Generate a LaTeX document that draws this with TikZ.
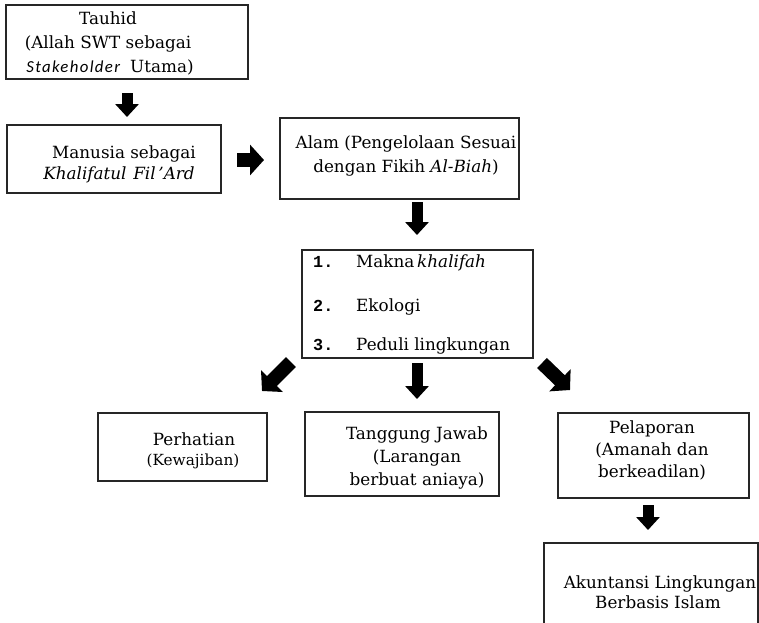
\documentclass[tikz,border=0pt]{standalone}
\usepackage{fontspec}
\setmainfont{DejaVu Serif}
\newfontfamily\calib{Carlito}[LetterSpace=8]
\newfontfamily\monof{Liberation Mono}
\usetikzlibrary{arrows.meta}
\begin{document}
\begin{tikzpicture}[x=1pt,y=-1pt,
  box/.style={draw=black!85,line width=1.4pt,rectangle},
  txt/.style={anchor=base,inner sep=0pt,font=\fontsize{16.8}{19}\selectfont},
  ltxt/.style={anchor=base west,inner sep=0pt,font=\fontsize{16.8}{19}\selectfont},
  barrow/.style={line width=11pt,black,-{Triangle[width=23pt,length=13pt]}},
  warrow/.style={line width=14pt,black,-{Triangle[width=30pt,length=14pt]}}]
\useasboundingbox (0,0) rectangle (759,622);
\clip (0,0) rectangle (759,622);
% boxes
\draw[box] (6,5) rectangle (248,79);
\draw[box] (7,125) rectangle (221,193);
\draw[box] (280,118) rectangle (519,199);
\draw[box] (302,250) rectangle (533,358);
\draw[box] (98,413) rectangle (267,481);
\draw[box] (305,412) rectangle (499,496);
\draw[box] (558,413) rectangle (749,498);
\draw[box] (544,543) rectangle (758,650);
% texts
\node[txt] (t1a) at (108,24) {Tauhid};
\node[txt] (t1b) at (108,48) {(Allah SWT sebagai};
\node[txt] (t1c) at (110,72) {{\calib\itshape Stakeholder}\hspace{0.6em}Utama)};
\node[txt] (t2a) at (124,158) {Manusia sebagai};
\node[txt] (t2b) at (119,179) {\itshape Khalifatul\hspace{0.4em}Fil\,'Ard};
\node[txt] (t3a) at (406,148) {Alam (Pengelolaan Sesuai};
\node[txt] (t3b) at (406,172) {dengan Fikih \textit{Al-Biah})};
\node[ltxt] (n1) at (313,267) {\monof\bfseries 1.};
\node[ltxt] (n2) at (313,311) {\monof\bfseries 2.};
\node[ltxt] (n3) at (313,350) {\monof\bfseries 3.};
\node[ltxt] (l1) at (356,267) {Makna\,\textit{khalifah}};
\node[ltxt] (l2) at (356,311) {Ekologi};
\node[ltxt] (l3) at (356,350) {Peduli lingkungan};
\node[txt] (t5a) at (194,445) {Perhatian};
\node[txt,font=\fontsize{15.3}{17}\selectfont] (t5b) at (193,465) {(Kewajiban)};
\node[txt] (t6a) at (417,439) {Tanggung Jawab};
\node[txt] (t6b) at (417,462) {(Larangan};
\node[txt] (t6c) at (417,485) {berbuat aniaya)};
\node[txt] (t7a) at (652,433) {Pelaporan};
\node[txt] (t7b) at (652,455) {(Amanah dan};
\node[txt] (t7c) at (652,477) {berkeadilan)};
\node[txt] (t8a) at (660,588) {Akuntansi Lingkungan};
\node[txt] (t8b) at (658,608) {Berbasis Islam};
% arrows
\coordinate (a1s) at (127,93);  \coordinate (a1e) at (127,117);
\coordinate (a2s) at (237,160); \coordinate (a2e) at (264,160);
\coordinate (a3s) at (417,202); \coordinate (a3e) at (417,235);
\coordinate (a4s) at (291,362); \coordinate (a4e) at (262,391);
\coordinate (a5s) at (417,363); \coordinate (a5e) at (417,399);
\coordinate (a6s) at (542,363); \coordinate (a6e) at (570,390);
\coordinate (a7s) at (648,505); \coordinate (a7e) at (648,530);
\draw[barrow] (a1s) -- (a1e);
\draw[warrow] (a2s) -- (a2e);
\draw[barrow] (a3s) -- (a3e);
\draw[warrow] (a4s) -- (a4e);
\draw[barrow] (a5s) -- (a5e);
\draw[warrow] (a6s) -- (a6e);
\draw[barrow] (a7s) -- (a7e);
\end{tikzpicture}
\end{document}
